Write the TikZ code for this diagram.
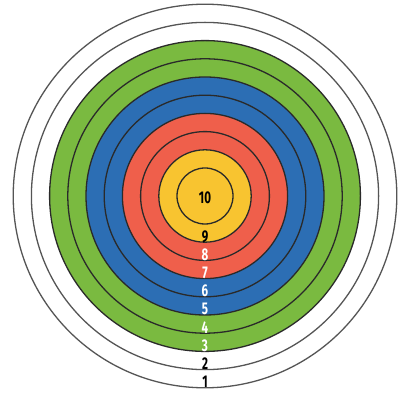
\documentclass[tikz,border=0pt]{standalone}
\usepackage{fontspec}
\newfontfamily\labfont{Fira Sans}
\definecolor{tgreen}{HTML}{7ABA40}
\definecolor{tblue}{HTML}{2C6EB4}
\definecolor{tred}{HTML}{EF5F4B}
\definecolor{tyellow}{HTML}{F8C430}
\definecolor{tline}{HTML}{2A2A2A}
\definecolor{tgray}{HTML}{555555}
\begin{document}
\begin{tikzpicture}[x=1pt,y=1pt,
  ring/.style={circle,inner sep=0pt,outer sep=0pt,draw=tline,line width=1.3pt},
  lab/.style={inner sep=0pt,font=\labfont\bfseries\fontsize{17}{17}\selectfont},
]
\useasboundingbox[fill=white] (0,0) rectangle (409,396);
\coordinate (O) at (205,200);
\node[ring,draw=tgray,fill=white,minimum size=383.6pt] (r1) at (O) {};
\node[ring,draw=tgray,fill=white,minimum size=347.2pt] (r2) at (O) {};
\node[ring,fill=tgreen,minimum size=310.8pt] (r3) at (O) {};
\node[ring,fill=tgreen,minimum size=274.4pt] (r4) at (O) {};
\node[ring,fill=tblue,minimum size=238pt] (r5) at (O) {};
\node[ring,fill=tblue,minimum size=201.6pt] (r6) at (O) {};
\node[ring,fill=tred,minimum size=165.2pt] (r7) at (O) {};
\node[ring,fill=tred,minimum size=128.8pt] (r8) at (O) {};
\node[ring,fill=tyellow,minimum size=92.4pt] (r9) at (O) {};
\node[ring,fill=tyellow,minimum size=56pt] (r10) at (O) {};
\node[lab,text=black] (l10) at (205,198) {\scalebox{0.68}[1]{10}};
\node[lab,text=black] (l9) at (205,159.5) {\scalebox{0.68}[1]{9}};
\node[lab,text=white] (l8) at (205,141.3) {\scalebox{0.68}[1]{8}};
\node[lab,text=white] (l7) at (205,123.1) {\scalebox{0.68}[1]{7}};
\node[lab,text=white] (l6) at (205,104.9) {\scalebox{0.68}[1]{6}};
\node[lab,text=white] (l5) at (205,86.7) {\scalebox{0.68}[1]{5}};
\node[lab,text=white] (l4) at (205,68.5) {\scalebox{0.68}[1]{4}};
\node[lab,text=white] (l3) at (205,50.3) {\scalebox{0.68}[1]{3}};
\node[lab,text=black] (l2) at (205,32.1) {\scalebox{0.68}[1]{2}};
\node[lab,text=black] (l1) at (205,13.9) {\scalebox{0.68}[1]{1}};
\end{tikzpicture}
\end{document}
